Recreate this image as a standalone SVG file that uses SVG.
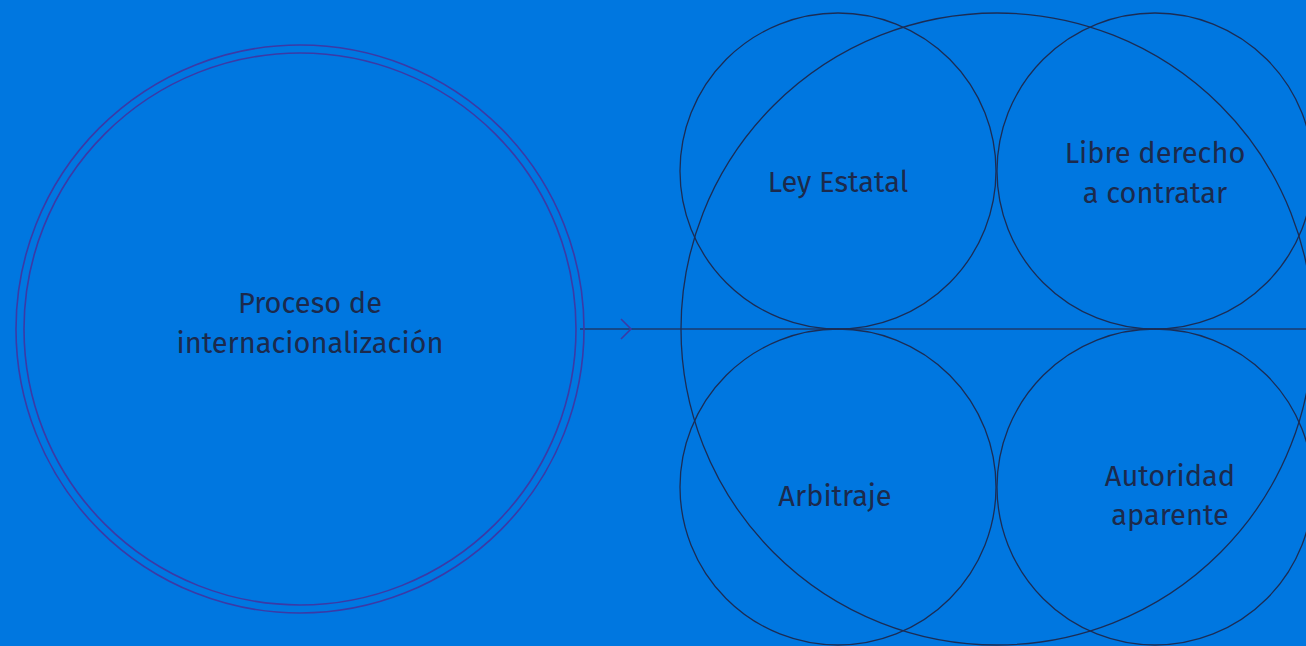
<svg xmlns="http://www.w3.org/2000/svg" width="1306" height="646" viewBox="0 0 1306 646">
<style>
.bg{fill:#0077e0}
.ring{fill:none;stroke:#3b3aa6;stroke-width:1.6}
.c{fill:none;stroke:#1b2d55;stroke-width:1.3}
.t{font-family:"Fira Sans","Noto Sans","Open Sans",sans-serif;font-size:29px;fill:#1c2a4c;text-anchor:middle}
.ln{stroke:#1b3a6e;stroke-width:1.5;fill:none}
.ah{stroke:#3b3aa6;stroke-width:1.6;fill:none}
</style>
<rect class="bg" x="0" y="0" width="1306" height="646"/>
<g id="connectors">
<line class="ln" x1="580" y1="329" x2="1306" y2="329"/>
<polyline class="ah" points="621,319 631,329 621,339"/>
</g>
<g id="proceso">
<circle class="ring" cx="300" cy="329" r="284"/>
<circle class="ring" cx="300" cy="329" r="276"/>
<text class="t" x="310" y="313">Proceso de</text>
<text class="t" x="310" y="353">internacionalización</text>
</g>
<g id="grupo">
<circle class="c" cx="997" cy="329" r="316"/>
</g>
<g id="ley">
<circle class="c" cx="838" cy="171" r="158"/>
<text class="t" x="838" y="192">Ley Estatal</text>
</g>
<g id="libre">
<circle class="c" cx="1155" cy="171" r="158"/>
<text class="t" x="1155" y="163">Libre derecho</text>
<text class="t" x="1155" y="203">a contratar</text>
</g>
<g id="arbitraje">
<circle class="c" cx="838" cy="487" r="158"/>
<text class="t" x="835" y="506">Arbitraje</text>
</g>
<g id="autoridad">
<circle class="c" cx="1155" cy="487" r="158"/>
<text class="t" x="1170" y="486">Autoridad</text>
<text class="t" x="1170" y="525">aparente</text>
</g>
</svg>
